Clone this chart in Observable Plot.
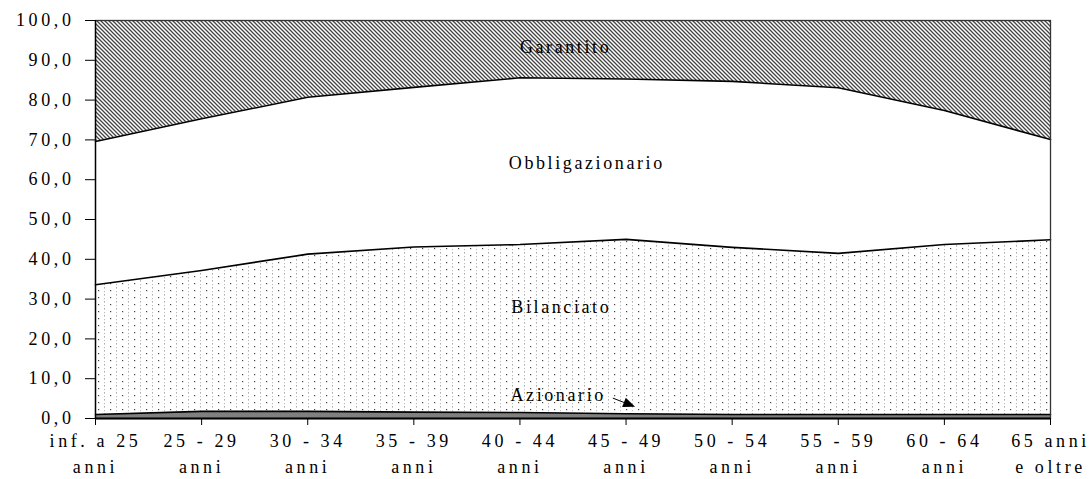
<!DOCTYPE html>
<html>
<head>
<meta charset="utf-8">
<script src="https://cdn.jsdelivr.net/npm/d3@7"></script>
<script src="https://cdn.jsdelivr.net/npm/@observablehq/plot@0.6"></script>
<style>
  html, body { margin: 0; padding: 0; background: #fff; }
  svg { display: block; }
</style>
</head>
<body>
<div id="chart"></div>
<script>
// Age classes (x categories)
const categories = ["inf. a 25\nanni", "25 - 29\nanni", "30 - 34\nanni", "35 - 39\nanni", "40 - 44\nanni",
                    "45 - 49\nanni", "50 - 54\nanni", "55 - 59\nanni", "60 - 64\nanni", "65 anni\ne oltre"];
// Series shares (%), stacked bottom to top
const seriesNames = ["Azionario", "Bilanciato", "Obbligazionario", "Garantito"];
const azionario       = [1.0, 1.8, 1.8, 1.6, 1.5, 1.2, 1.0, 1.0, 1.0, 1.0];
const bilanciato      = [32.6, 35.4, 39.5, 41.5, 42.2, 43.8, 42.0, 40.5, 42.7, 43.9];
const obbligazionario = [36.0, 38.1, 39.4, 40.1, 41.9, 40.3, 41.7, 41.6, 33.7, 25.2];
const garantito       = [30.4, 24.7, 19.3, 16.8, 14.4, 14.7, 15.3, 16.9, 22.6, 29.9];
const yTicks = [0, 10, 20, 30, 40, 50, 60, 70, 80, 90, 100];
// In-chart labels (position in data units)
const labels = [
  {text: "Garantito", x: 4.43, y: 93.2},
  {text: "Obbligazionario", x: 4.63, y: 64.1},
  {text: "Bilanciato", x: 4.39, y: 27.9},
  {text: "Azionario", x: 4.36, y: 5.9}
];
// Leader arrow from the "Azionario" label (data units)
const arrowStart = {x: 4.88, y: 5.0};
const arrowTip = {x: 5.09, y: 2.8};

const seriesValues = [azionario, bilanciato, obbligazionario, garantito];
const data = [];
seriesNames.forEach((s, si) => {
  categories.forEach((c, i) => data.push({series: s, x: i, value: seriesValues[si][i]}));
});

const fills = ["#808080", "url(#dots)", "#ffffff", "url(#hatch)"];
const fmt = d => d.toFixed(1).replace(".", ",");
const serif = "'Liberation Serif', 'Times New Roman', 'DejaVu Serif', serif";

const svg = Plot.plot({
  width: 1091,
  height: 479,
  marginLeft: 95,
  marginRight: 41,
  marginTop: 20,
  marginBottom: 61,
  style: {fontSize: "18px", color: "#000", background: "#fff"},
  x: {type: "linear", domain: [0, 9]},
  y: {domain: [0, 100]},
  color: {type: "ordinal", domain: seriesNames, range: fills},
  marks: [
    Plot.areaY(data, {x: "x", y: "value", z: "series", fill: "series", fillOpacity: 1}),
    Plot.lineY(data, Plot.stackY2({x: "x", y: "value", z: "series", filter: d => d.series !== "Garantito", stroke: "#000", strokeWidth: 1.6})),
    Plot.frame({stroke: "#333", strokeWidth: 1.3}),
    Plot.ruleX([0], {stroke: "#000", strokeWidth: 1.3}),
    Plot.ruleY([0], {stroke: "#000", strokeWidth: 2}),
    Plot.axisY({ticks: yTicks, tickFormat: fmt, tickSize: 10, tickPadding: 11, label: null, fontSize: 18}),
    Plot.axisX({ticks: d3.range(categories.length), tickFormat: i => categories[i], tickSize: 7, tickPadding: 3, label: null, lineHeight: 1.45, fontSize: 18}),
    Plot.text(labels, {x: "x", y: "y", text: "text", fontSize: 18, fill: "#000"})
  ]
});

// Leader line with a filled arrow head, positioned through the plot's own scales
const sx = svg.scale("x"), sy = svg.scale("y");
const x0 = sx.apply(arrowStart.x), y0 = sy.apply(arrowStart.y);
const x1 = sx.apply(arrowTip.x), y1 = sy.apply(arrowTip.y);
const ang = Math.atan2(y1 - y0, x1 - x0);
const hl = 12, hw = 5;
const bx = x1 - hl * Math.cos(ang), by = y1 - hl * Math.sin(ang);
const px = -Math.sin(ang) * hw, py = Math.cos(ang) * hw;
const ann = d3.select(svg).append("g").attr("aria-label", "arrow");
ann.append("line").attr("x1", x0).attr("y1", y0).attr("x2", bx).attr("y2", by)
  .attr("stroke", "#000").attr("stroke-width", 1);
ann.append("path").attr("d", `M${x1},${y1}L${bx + px},${by + py}L${bx - px},${by - py}Z`).attr("fill", "#000");

svg.setAttribute("font-family", serif);
svg.style.fontFamily = serif;
d3.select(svg).selectAll("text").style("font-family", serif).style("letter-spacing", "3.6px");
d3.select(svg).selectAll("g[aria-label='text'] text").style("letter-spacing", "2.6px");

const defs = d3.select(svg).insert("defs", ":first-child");
const hatch = defs.append("pattern").attr("id", "hatch").attr("patternUnits", "userSpaceOnUse")
  .attr("width", 4).attr("height", 4);
hatch.append("rect").attr("width", 4).attr("height", 4).attr("fill", "#fff");
hatch.append("path").attr("d", "M-1,-1L5,5M-1,3L1,5M3,-1L5,1").attr("stroke", "#444").attr("stroke-width", 1.3);
const dots = defs.append("pattern").attr("id", "dots").attr("patternUnits", "userSpaceOnUse")
  .attr("width", 12).attr("height", 7);
dots.append("rect").attr("width", 12).attr("height", 7).attr("fill", "#fff");
dots.append("rect").attr("x", 2).attr("y", 3).attr("width", 1.2).attr("height", 1.2).attr("fill", "#444");
dots.append("rect").attr("x", 8).attr("y", 0).attr("width", 0.8).attr("height", 1.6).attr("fill", "#999");
dots.append("rect").attr("x", 8).attr("y", 4).attr("width", 0.8).attr("height", 1.2).attr("fill", "#aaa");

document.getElementById("chart").appendChild(svg);
</script>
</body>
</html>
